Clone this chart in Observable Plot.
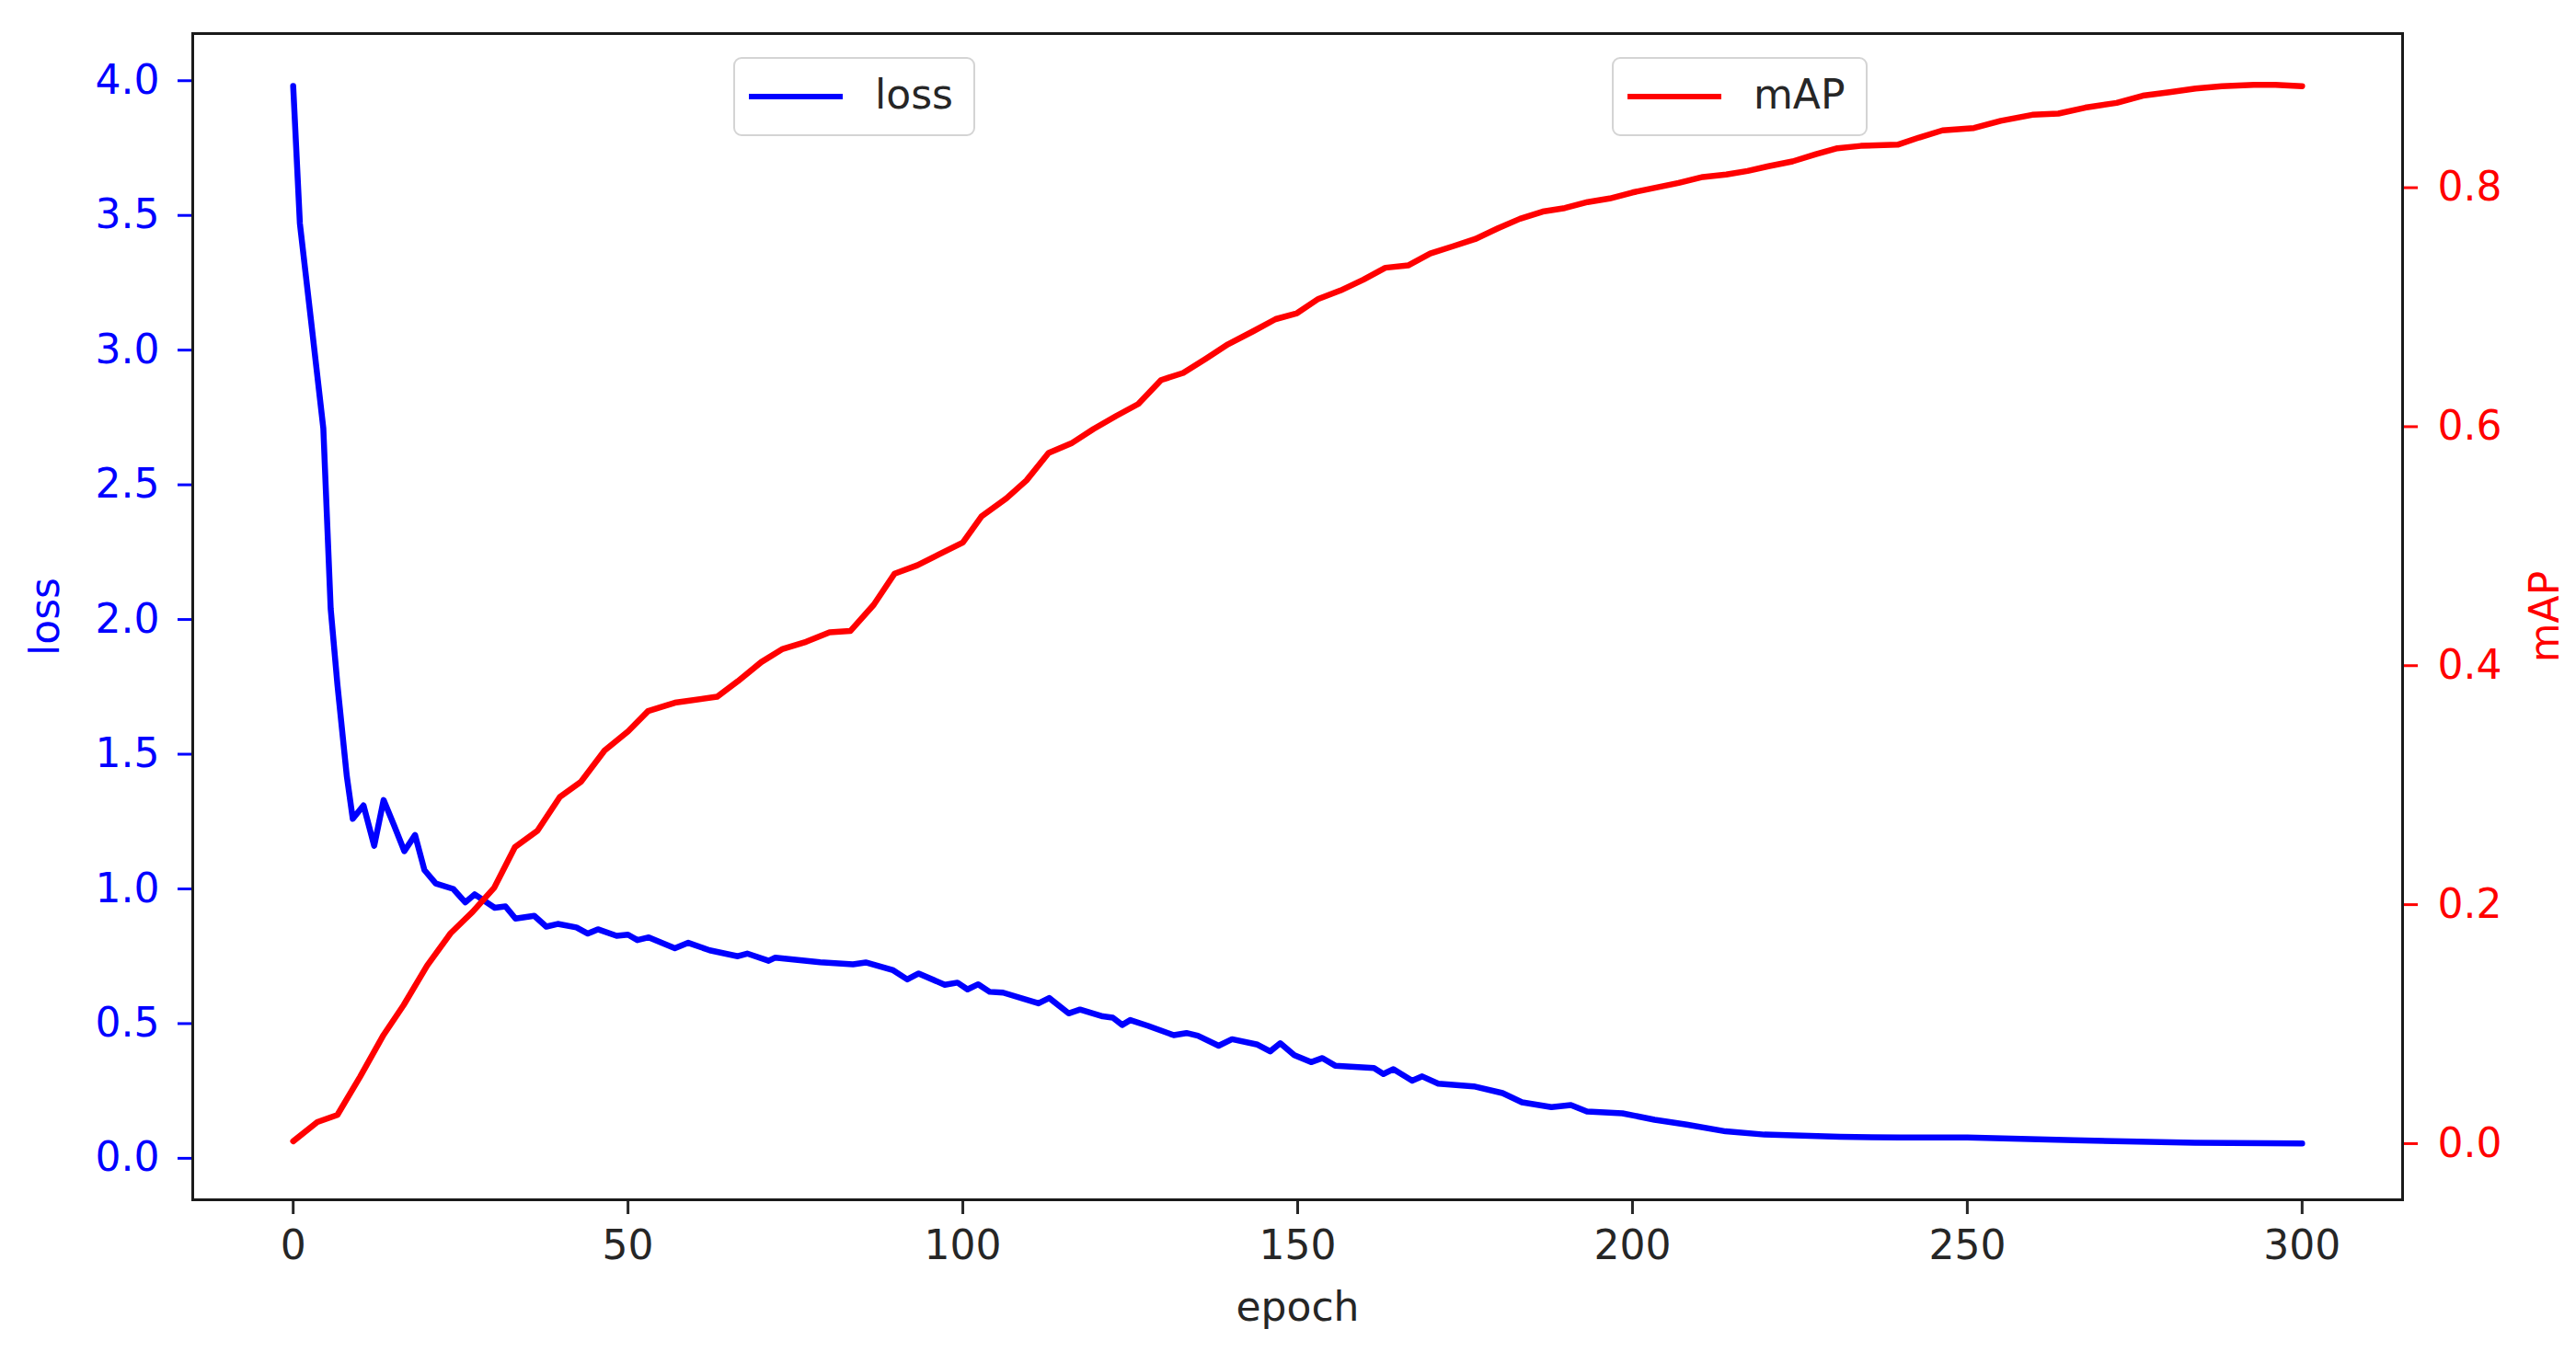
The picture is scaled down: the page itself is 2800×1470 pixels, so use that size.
<!DOCTYPE html>
<html><head><meta charset="utf-8">
<script src="https://cdn.jsdelivr.net/npm/d3@7"></script>
<script src="https://cdn.jsdelivr.net/npm/@observablehq/plot@0.6"></script>
<style>
html,body{margin:0;padding:0;background:#fff;}
#wrap{position:relative;width:2800px;height:1470px;font-family:"DejaVu Sans",sans-serif;}
.legend{position:absolute;box-sizing:border-box;border:2px solid #d4d4d4;border-radius:9px;background:rgba(255,255,255,0.85);display:flex;align-items:center;font-size:44px;color:#262626;padding-bottom:5px;}
.legend .sw{height:6px;width:102px;margin-left:15px;margin-right:35px;margin-top:4px;}
</style></head><body><div id="wrap"></div>
<script>
const lossEpoch = [0,1,2.8,4.5,5.6,6.6,8,8.9,10.5,12.1,13.5,15,16.6,18.2,19.6,21.3,23.9,25.7,27.1,30.1,31.7,33.2,36,37.8,39.5,42.3,44,45.5,48.3,50,51.4,53.1,57,59,62.2,66.4,67.8,71,72,78.7,83.6,85.5,89.6,91.7,93.4,97.3,99.2,100.7,102.3,104,106,111.3,112.9,115.8,117.5,120.9,122.4,123.8,125,127.6,131.5,133.4,135.1,138.2,140.2,144,145.9,147.4,149.5,152,153.7,155.6,161.4,162.8,164.3,167.1,168.6,171,176.3,180.6,183.5,187.9,190.8,193.2,198.5,203.3,208.1,213.9,219.7,231,240,250,266,284,300];
const lossValue = [3.98,3.47,3.08,2.71,2.04,1.76,1.42,1.26,1.31,1.16,1.33,1.24,1.14,1.2,1.07,1.02,1.0,0.95,0.98,0.93,0.935,0.89,0.9,0.86,0.87,0.857,0.834,0.85,0.826,0.83,0.81,0.82,0.78,0.8,0.772,0.75,0.76,0.733,0.745,0.728,0.72,0.727,0.698,0.664,0.686,0.644,0.652,0.627,0.646,0.618,0.615,0.575,0.595,0.538,0.552,0.527,0.522,0.495,0.513,0.492,0.457,0.465,0.455,0.418,0.442,0.422,0.397,0.427,0.383,0.357,0.372,0.344,0.335,0.313,0.331,0.288,0.304,0.277,0.267,0.242,0.208,0.19,0.198,0.174,0.167,0.143,0.125,0.1,0.088,0.08,0.077,0.077,0.067,0.058,0.055];
const mapEpoch = [0,3.6,6.6,10,13.5,16.5,20,23.5,26.8,30,33.1,36.5,39.8,43,46.5,50,53,57,63.3,66.4,69.9,73.1,76.6,80.1,83.2,86.7,89.8,93.2,96.4,100,102.8,106.5,109.5,112.8,116.2,119.5,122.9,126.2,129.6,132.9,136.3,139.6,143.4,146.7,149.9,153.1,156.4,159.8,163.1,166.5,169.8,173.2,176.5,179.9,183.2,186.6,189.9,193.3,196.6,200,203.4,206.9,210.5,214,217.2,220.3,223.9,227.4,230.6,234.1,239.6,242.8,246.3,251,255,259.7,263.6,267.6,272.3,276.2,280.2,284.1,288,292.8,296,300];
const mapValue = [0.002,0.018,0.024,0.056,0.091,0.116,0.149,0.176,0.194,0.214,0.248,0.262,0.29,0.303,0.329,0.345,0.362,0.369,0.374,0.387,0.403,0.414,0.42,0.428,0.429,0.451,0.477,0.484,0.493,0.503,0.525,0.54,0.555,0.578,0.586,0.598,0.609,0.619,0.639,0.645,0.657,0.669,0.68,0.69,0.695,0.707,0.714,0.723,0.733,0.735,0.745,0.751,0.757,0.766,0.774,0.78,0.783,0.788,0.791,0.796,0.8,0.804,0.809,0.811,0.814,0.818,0.822,0.828,0.833,0.835,0.836,0.842,0.848,0.85,0.856,0.861,0.862,0.867,0.871,0.877,0.88,0.883,0.885,0.886,0.886,0.885];
const xTicks = [0,50,100,150,200,250,300];
const lossTicks = [0,0.5,1.0,1.5,2.0,2.5,3.0,3.5,4.0];
const mapTicks = [0,0.2,0.4,0.6,0.8];
const xDomain = [-15,315];
const lossDomain = [-0.154,4.175];
const mapDomain = [-0.047,0.929];

const toLoss = m => lossDomain[0] + (m - mapDomain[0]) / (mapDomain[1] - mapDomain[0]) * (lossDomain[1] - lossDomain[0]);
const fromLoss = v => mapDomain[0] + (v - lossDomain[0]) / (lossDomain[1] - lossDomain[0]) * (mapDomain[1] - mapDomain[0]);

const lossData = lossEpoch.map((e, i) => ({epoch: e, v: lossValue[i]}));
const mapData = mapEpoch.map((e, i) => ({epoch: e, v: toLoss(mapValue[i])}));

const chart = Plot.plot({
  width: 2800, height: 1470,
  marginLeft: 209, marginRight: 189, marginTop: 36, marginBottom: 166,
  style: {fontFamily: "DejaVu Sans, sans-serif", fontSize: "44px", background: "white", color: "#262626"},
  x: {domain: xDomain},
  y: {domain: lossDomain},
  marks: [
    Plot.lineY(lossData, {x: "epoch", y: "v", stroke: "#0000ff", strokeWidth: 6.5}),
    Plot.lineY(mapData, {x: "epoch", y: "v", stroke: "#ff0000", strokeWidth: 6.5}),
    Plot.axisX({ticks: xTicks, tickSize: 16, tickPadding: 17, strokeWidth: 3, color: "#262626",
      label: "epoch", labelAnchor: "center", labelArrow: "none", labelOffset: 131}),
    Plot.axisY({ticks: lossTicks, anchor: "left", tickFormat: d => d.toFixed(1), tickSize: 16, tickPadding: 20,
      strokeWidth: 3, color: "#0000ff", label: "loss", labelAnchor: "center", labelArrow: "none", labelOffset: 177}),
    Plot.axisY(mapTicks.map(toLoss), {anchor: "right", tickFormat: d => fromLoss(d).toFixed(1), tickSize: 16, tickPadding: 22,
      strokeWidth: 3, color: "#ff0000", label: "mAP", labelAnchor: "center", labelArrow: "none", labelOffset: 169}),
    Plot.frame({stroke: "#1a1a1a", strokeWidth: 3})
  ]
});

const wrap = document.getElementById("wrap");
wrap.appendChild(chart);

const legends = [
  {name: "loss", color: "#0000ff", left: 797, width: 263},
  {name: "mAP", color: "#ff0000", left: 1752, width: 278}
];
for (const l of legends) {
  const d = document.createElement("div");
  d.className = "legend";
  d.style.left = l.left + "px";
  d.style.top = "62px";
  d.style.width = l.width + "px";
  d.style.height = "86px";
  const sw = document.createElement("span");
  sw.className = "sw";
  sw.style.background = l.color;
  const t = document.createElement("span");
  t.textContent = l.name;
  d.appendChild(sw);
  d.appendChild(t);
  wrap.appendChild(d);
}
</script>
</body></html>
